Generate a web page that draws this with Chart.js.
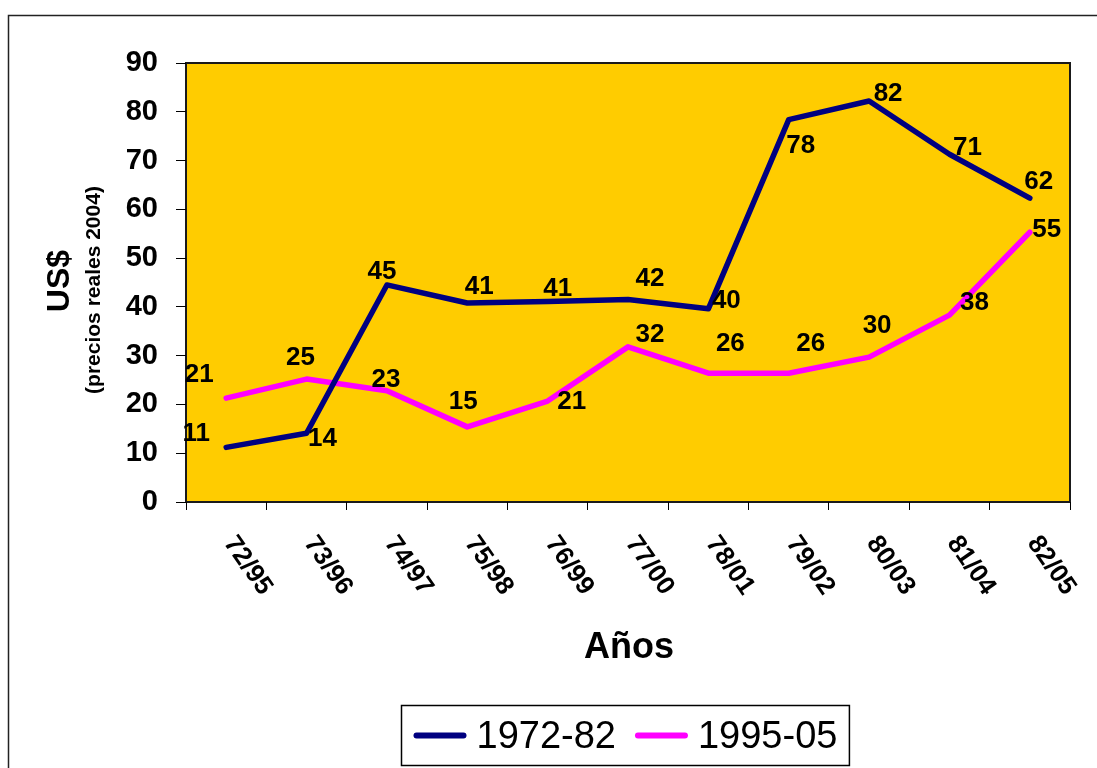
<!DOCTYPE html>
<html>
<head>
<meta charset="utf-8">
<script src="https://cdn.jsdelivr.net/npm/chart.js@4/dist/chart.umd.min.js"></script>
<style>
  html, body { margin: 0; padding: 0; background: #fff; }
  canvas { display: block; }
</style>
</head>
<body>
<canvas id="c" width="1097" height="768"></canvas>
<script>
// ---- data ----
const categories = ['72/95','73/96','74/97','75/98','76/99','77/00','78/01','79/02','80/03','81/04','82/05'];
const series1972 = [11.2, 14.1, 44.5, 40.8, 41.1, 41.5, 39.6, 78.4, 82.2, 71.3, 62.3];
const series1995 = [21.3, 25.2, 22.8, 15.4, 20.7, 31.8, 26.4, 26.4, 29.7, 38.3, 55.3];
const seriesNames = ['1972-82', '1995-05'];
const yTicks = [0, 10, 20, 30, 40, 50, 60, 70, 80, 90];

// label placement offsets (pixels relative to each point), mimic reference
const labelOffsets1972 = [[-30,-15],[16,5],[-5,-14],[12,-17],[10,-14],[22,-22],[18,-9],[12,25],[19,-8],[18,-7],[9,-17]];
const labelOffsets1995 = [[-27,-24],[-6,-22],[-1,-12],[-4,-26],[24,0],[22,-13],[22,-30],[22,-30],[8,-32],[25,-13],[17,-3]];

const FONT = '"Liberation Sans", Arial, Helvetica, sans-serif';
const NAVY = '#000080';
const MAGENTA = '#FF00FF';

const customPlugin = {
  id: 'custom',
  beforeDraw(chart) {
    const { ctx, chartArea: a } = chart;
    ctx.save();
    ctx.fillStyle = '#fff';
    ctx.fillRect(0, 0, chart.width, chart.height);
    ctx.strokeStyle = '#222';
    ctx.lineWidth = 1.5;
    ctx.strokeRect(8.5, 15.5, chart.width + 20, chart.height + 20);
    ctx.fillStyle = '#FFCC00';
    ctx.fillRect(a.left, a.top, a.right - a.left, a.bottom - a.top);
    ctx.strokeStyle = '#1a1a1a';
    ctx.lineWidth = 2;
    ctx.strokeRect(a.left, a.top, a.right - a.left, a.bottom - a.top);
    ctx.restore();
  },
  afterDatasetsDraw(chart) {
    const { ctx } = chart;
    ctx.save();
    ctx.font = 'bold 26px ' + FONT;
    ctx.fillStyle = '#000';
    ctx.textAlign = 'center';
    ctx.textBaseline = 'middle';
    const offs = [labelOffsets1972, labelOffsets1995];
    chart.data.datasets.forEach((ds, di) => {
      const meta = chart.getDatasetMeta(di);
      meta.data.forEach((pt, i) => {
        const o = offs[di][i];
        ctx.fillText(String(Math.round(ds.data[i])), pt.x + o[0], pt.y + o[1] + 1);
      });
    });
    ctx.restore();
  },
  afterDraw(chart) {
    const { ctx, chartArea: a } = chart;
    const xs = chart.scales.x;
    ctx.save();
    // rotated x labels
    ctx.font = 'bold 26px ' + FONT;
    ctx.fillStyle = '#000';
    ctx.textAlign = 'left';
    ctx.textBaseline = 'alphabetic';
    categories.forEach((lab, i) => {
      const x = xs.getPixelForTick(i);
      ctx.save();
      ctx.translate(x - 3, a.bottom + 41);
      ctx.rotate(55 * Math.PI / 180);
      ctx.fillText(lab, 0, 0);
      ctx.restore();
    });
    // x title
    ctx.font = 'bold 36px ' + FONT;
    ctx.textAlign = 'center';
    ctx.textBaseline = 'middle';
    ctx.fillText('Años', (a.left + a.right) / 2 + 1, 648);
    // y titles
    ctx.save();
    ctx.translate(60, 281);
    ctx.rotate(-Math.PI / 2);
    ctx.font = 'bold 32px ' + FONT;
    ctx.fillText('US$', 0, 0);
    ctx.restore();
    ctx.save();
    ctx.translate(94, 290);
    ctx.rotate(-Math.PI / 2);
    ctx.font = 'bold 21px ' + FONT;
    ctx.fillText('(precios reales 2004)', 0, 0);
    ctx.restore();
    // legend
    ctx.font = '38px ' + FONT;
    const lineLen = 53, gapLineText = 10, itemGap = 19, padX = 12;
    const widths = seriesNames.map(n => ctx.measureText(n).width);
    const total = padX * 2 + widths.reduce((s, w) => s + lineLen + gapLineText + w, 0) + itemGap;
    const bx = Math.round((a.left + a.right) / 2 - total / 2) - 2.5;
    const by = 705.5, bh = 60;
    ctx.strokeStyle = '#000';
    ctx.lineWidth = 1.5;
    ctx.strokeRect(bx, by, total, bh);
    let cx = bx + padX;
    const cy = by + bh / 2;
    chart.data.datasets.forEach((ds, i) => {
      ctx.strokeStyle = ds.borderColor;
      ctx.lineWidth = 6;
      ctx.lineCap = 'round';
      ctx.beginPath();
      ctx.moveTo(cx + 3, cy);
      ctx.lineTo(cx + lineLen - 3, cy);
      ctx.stroke();
      cx += lineLen + gapLineText;
      ctx.fillStyle = '#000';
      ctx.textAlign = 'left';
      ctx.textBaseline = 'middle';
      ctx.fillText(seriesNames[i], cx, cy + 2);
      cx += widths[i] + itemGap;
    });
    ctx.restore();
  }
};

new Chart(document.getElementById('c'), {
  type: 'line',
  data: {
    labels: categories,
    datasets: [
      { label: seriesNames[0], data: series1972, borderColor: NAVY, backgroundColor: NAVY, borderWidth: 5.5, borderCapStyle: 'round', borderJoinStyle: 'round', pointRadius: 0, tension: 0, fill: false },
      { label: seriesNames[1], data: series1995, borderColor: MAGENTA, backgroundColor: MAGENTA, borderWidth: 5.5, borderCapStyle: 'round', borderJoinStyle: 'round', pointRadius: 0, tension: 0, fill: false }
    ]
  },
  options: {
    responsive: false,
    animation: false,
    devicePixelRatio: 1,
    layout: { padding: { left: 0, top: 63, right: 27, bottom: 0 } },
    plugins: { legend: { display: false }, tooltip: { enabled: false } },
    scales: {
      x: {
        type: 'category',
        offset: true,
        grid: { offset: true, drawOnChartArea: false, drawTicks: true, tickLength: 8, color: '#000', lineWidth: 1 },
        border: { display: false },
        ticks: { display: false },
        afterFit(s) { s.height = 266; }
      },
      y: {
        min: 0, max: 90,
        afterBuildTicks(s) { s.ticks = yTicks.map(v => ({ value: v })); },
        grid: { drawOnChartArea: false, drawTicks: true, tickLength: 10, color: '#000', lineWidth: 1 },
        border: { display: false },
        ticks: { font: { family: FONT, size: 29, weight: 'bold' }, color: '#000', padding: 18 },
        afterFit(s) { s.width = 186; }
      }
    }
  },
  plugins: [customPlugin]
});
</script>
</body>
</html>
